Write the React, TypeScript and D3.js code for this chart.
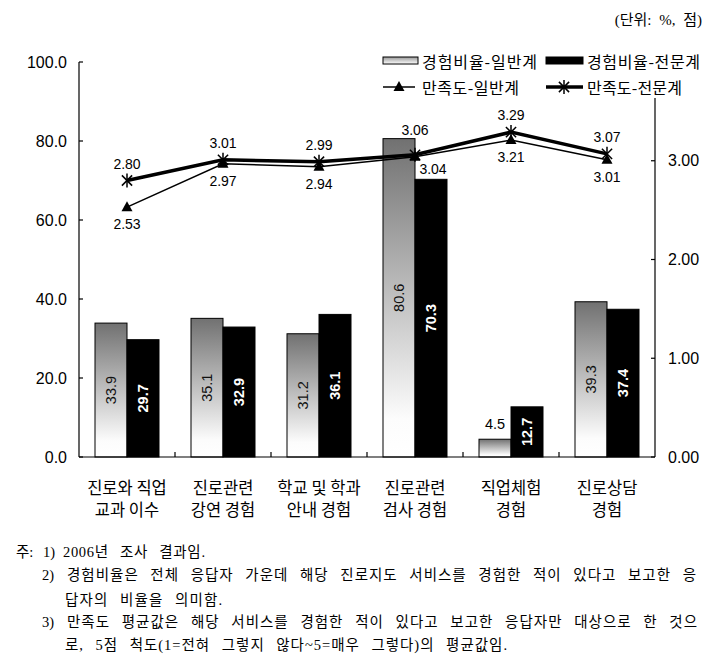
import React from "react";
import * as d3 from "d3";

const categories: string[][] = [
  ["진로와 직업", "교과 이수"],
  ["진로관련", "강연 경험"],
  ["학교 및 학과", "안내 경험"],
  ["진로관련", "검사 경험"],
  ["직업체험", "경험"],
  ["진로상담", "경험"],
];
const rateGeneral = [33.9, 35.1, 31.2, 80.6, 4.5, 39.3];
const rateVocational = [29.7, 32.9, 36.1, 70.3, 12.7, 37.4];
const satGeneral = [2.53, 2.97, 2.94, 3.04, 3.21, 3.01];
const satVocational = [2.8, 3.01, 2.99, 3.06, 3.29, 3.07];
const leftTicks = [0, 20, 40, 60, 80, 100];
const rightTicks = [0, 1, 2, 3];
const legendLabels = ["경험비율-일반계", "경험비율-전문계", "만족도-일반계", "만족도-전문계"];
const unitLabel = "(단위: %, 점)";
const noteHead = ["주:", "1)", "2)", "3)"];
const notes = [
  "2006년 조사 결과임.",
  "경험비율은 전체 응답자 가운데 해당 진로지도 서비스를 경험한 적이 있다고 보고한 응",
  "답자의 비율을 의미함.",
  "만족도 평균값은 해당 서비스를 경험한 적이 있다고 보고한 응답자만 대상으로 한 것으",
  "로, 5점 척도(1=전혀 그렇지 않다~5=매우 그렇다)의 평균값임.",
];

const NUM = "'Liberation Sans', Arial, sans-serif";
const KR = "'Noto Sans CJK KR', sans-serif";
const SERIF = "'Liberation Serif', 'Noto Sans CJK KR', serif";

function Star({ x, y, s = 6 }: { x: number; y: number; s?: number }) {
  const d = s * 0.85;
  return (
    <g stroke="#000" strokeWidth={1.5}>
      <line x1={x - d} y1={y - d} x2={x + d} y2={y + d} />
      <line x1={x - d} y1={y + d} x2={x + d} y2={y - d} />
      <line x1={x} y1={y - s - 1} x2={x} y2={y + s + 1} />
    </g>
  );
}
function Tri({ x, y }: { x: number; y: number }) {
  const p = d3.path();
  p.moveTo(x, y - 6);
  p.lineTo(x + 5.5, y + 4);
  p.lineTo(x - 5.5, y + 4);
  p.closePath();
  return <path d={p.toString()} fill="#000" />;
}

export default function App() {
  const left = 79, right = 655, top = 62, bottom = 457;
  const idx = categories.map((_, i) => i);
  const x = d3.scaleBand<number>().domain(idx).range([left, right]);
  const xs = d3.scaleBand<string>().domain(["g", "v"]).range([0, x.bandwidth()]).paddingInner(0).paddingOuter(0.5);
  const yL = d3.scaleLinear().domain([0, 100]).range([bottom, top]);
  const yR = d3.scaleLinear().domain([0, 4]).range([bottom, top]);
  const cx = (i: number) => (x(i) as number) + x.bandwidth() / 2;
  const bw = xs.bandwidth();

  const lineGen = d3.line<number>().x((_, i) => cx(i)).y((d) => yR(d));

  return (
    <svg width={714} height={661} style={{ position: "absolute", left: 0, top: 0, background: "#fff" }}>
      <defs>
        <linearGradient id="lg" x1="0" y1="0" x2="0" y2="1">
          <stop offset="0" stopColor="#717171" />
          <stop offset="0.88" stopColor="#fcfcfc" />
          <stop offset="1" stopColor="#fff" />
        </linearGradient>
        <linearGradient id="lgs" x1="0" y1="0" x2="0" y2="1">
          <stop offset="0" stopColor="#999" />
          <stop offset="1" stopColor="#fff" />
        </linearGradient>
      </defs>

      {/* bars */}
      {idx.map((i) => {
        const xg = (x(i) as number) + (xs("g") as number);
        const xv = (x(i) as number) + (xs("v") as number);
        return (
          <g key={i}>
            <rect x={xg} y={yL(rateGeneral[i])} width={bw} height={bottom - yL(rateGeneral[i])} fill="url(#lg)" stroke="#000" strokeWidth={1} />
            <rect x={xv} y={yL(rateVocational[i])} width={bw} height={bottom - yL(rateVocational[i])} fill="#000" stroke="#000" strokeWidth={1} />
          </g>
        );
      })}

      {/* bar labels */}
      {idx.map((i) => {
        const xg = (x(i) as number) + (xs("g") as number) + bw / 2;
        const xv = (x(i) as number) + (xs("v") as number) + bw / 2;
        const vg = rateGeneral[i];
        const vv = rateVocational[i];
        const small = vg < 8;
        const yg = small ? yL(vg) - 15 : (yL(vg) + bottom) / 2;
        const yv = (yL(vv) + bottom) / 2;
        return (
          <g key={i} fontFamily={NUM} fontSize={14.5}>
            {small ? (
              <text x={xg} y={yg} textAnchor="middle" dominantBaseline="central" fill="#000">{vg.toFixed(1)}</text>
            ) : (
              <text transform={`translate(${xg},${yg}) rotate(-90)`} textAnchor="middle" dominantBaseline="central" fill="#111">{vg.toFixed(1)}</text>
            )}
            <text transform={`translate(${xv},${yv}) rotate(-90)`} textAnchor="middle" dominantBaseline="central" fill="#fff" fontWeight="bold">{vv.toFixed(1)}</text>
          </g>
        );
      })}

      {/* axes */}
      <g stroke="#000" strokeWidth={1.2}>
        <line x1={left} y1={top} x2={left} y2={bottom} />
        <line x1={right} y1={top} x2={right} y2={bottom} />
        <line x1={left} y1={bottom} x2={right} y2={bottom} />
        {leftTicks.map((t) => (
          <line key={t} x1={left} x2={left + 4} y1={yL(t)} y2={yL(t)} />
        ))}
        {rightTicks.map((t) => (
          <line key={t} x1={right - 4} x2={right} y1={yR(t)} y2={yR(t)} />
        ))}
        {idx.slice(1).map((i) => (
          <line key={i} x1={x(i) as number} x2={x(i) as number} y1={bottom} y2={bottom - 5} />
        ))}
      </g>
      <g fontFamily={NUM} fontSize={16} fill="#000">
        {leftTicks.map((t) => (
          <text key={t} x={67} y={yL(t)} textAnchor="end" dominantBaseline="central">{t.toFixed(1)}</text>
        ))}
        {rightTicks.map((t) => (
          <text key={t} x={668} y={yR(t)} dominantBaseline="central">{t.toFixed(2)}</text>
        ))}
      </g>

      {/* category labels */}
      <g fontFamily={KR} fontSize={16.5} fill="#000">
        {categories.map((c, i) => (
          <g key={i}>
            <text x={cx(i)} y={487} textAnchor="middle" dominantBaseline="central">{c[0]}</text>
            <text x={cx(i)} y={509} textAnchor="middle" dominantBaseline="central">{c[1]}</text>
          </g>
        ))}
      </g>

      {/* lines */}
      <path d={lineGen(satGeneral) as string} fill="none" stroke="#000" strokeWidth={1.5} />
      <path d={lineGen(satVocational) as string} fill="none" stroke="#000" strokeWidth={3.5} />
      {satGeneral.map((v, i) => (
        <Tri key={i} x={cx(i)} y={yR(v)} />
      ))}
      {satVocational.map((v, i) => (
        <Star key={i} x={cx(i)} y={yR(v)} />
      ))}

      {/* line labels */}
      <g fontFamily={NUM} fontSize={14} fill="#000">
        {satVocational.map((v, i) => {
          const ly = i === 3 ? yL(rateGeneral[i]) - 9 : yR(v) - 17;
          return (
            <text key={i} x={cx(i)} y={ly} textAnchor="middle" dominantBaseline="central">{v.toFixed(2)}</text>
          );
        })}
        {satGeneral.map((v, i) => {
          const lx = i === 3 ? cx(i) + 18 : cx(i);
          const ly = i === 3 ? yR(v) + 12 : yR(v) + 17;
          return (
            <text key={i} x={lx} y={ly} textAnchor="middle" dominantBaseline="central">{v.toFixed(2)}</text>
          );
        })}
      </g>

      {/* legend */}
      <rect x={378} y={44} width={330} height={54} fill="#fff" />
      <g fontFamily={KR} fontSize={16} fill="#000">
        <rect x={383} y={57} width={35} height={7} fill="url(#lgs)" stroke="#000" strokeWidth={1} />
        <text x={422} y={61} dominantBaseline="central" textLength={115} lengthAdjust="spacing">{legendLabels[0]}</text>
        <rect x={546} y={57} width={37} height={7} fill="#000" stroke="#000" strokeWidth={1} />
        <text x={587} y={61} dominantBaseline="central" textLength={113} lengthAdjust="spacing">{legendLabels[1]}</text>
        <line x1={383} x2={415} y1={87} y2={87} stroke="#000" strokeWidth={1.5} />
        <Tri x={399} y={87} />
        <text x={422} y={87} dominantBaseline="central" textLength={97} lengthAdjust="spacing">{legendLabels[2]}</text>
        <line x1={546} x2={583} y1={87} y2={87} stroke="#000" strokeWidth={3.5} />
        <Star x={564} y={87} />
        <text x={587} y={87} dominantBaseline="central" textLength={95} lengthAdjust="spacing">{legendLabels[3]}</text>
      </g>

      {/* unit */}
      <text x={702} y={20} textAnchor="end" dominantBaseline="central" fontFamily={SERIF} fontSize={15} wordSpacing={4} fill="#000">{unitLabel}</text>

      {/* notes */}
      <g fontFamily={SERIF} fontSize={14.5} fill="#000" wordSpacing={7}>
        <text x={16} y={552} dominantBaseline="central">{noteHead[0]}</text>
        <text x={43} y={552} dominantBaseline="central">{noteHead[1]}</text>
        <text x={63} y={552} dominantBaseline="central" textLength={142} lengthAdjust="spacing">{notes[0]}</text>
        <text x={42} y={575} dominantBaseline="central">{noteHead[2]}</text>
        <text x={67} y={575} dominantBaseline="central" textLength={629} lengthAdjust="spacing">{notes[1]}</text>
        <text x={65} y={600} dominantBaseline="central" textLength={157} lengthAdjust="spacing">{notes[2]}</text>
        <text x={42} y={622} dominantBaseline="central">{noteHead[3]}</text>
        <text x={67} y={622} dominantBaseline="central" textLength={630} lengthAdjust="spacing">{notes[3]}</text>
        <text x={65} y={645} dominantBaseline="central" textLength={442} lengthAdjust="spacing">{notes[4]}</text>
      </g>
    </svg>
  );
}
